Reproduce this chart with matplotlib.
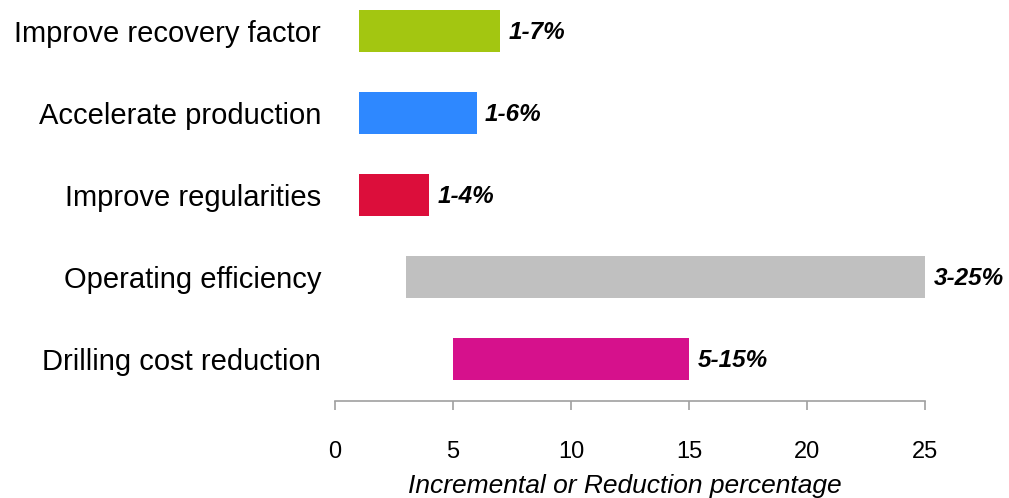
import matplotlib.pyplot as plt

# data
categories = ['Improve recovery factor', 'Accelerate production', 'Improve regularities',
              'Operating efficiency', 'Drilling cost reduction']
low = [1, 1, 1, 3, 5]
high = [7, 6, 4, 25, 15]
colors = ['#A3C611', '#2E88FF', '#DC0E3B', '#C0C0C0', '#D6118C']
xticks = [0, 5, 10, 15, 20, 25]

plt.rcParams['font.family'] = ['Liberation Sans', 'DejaVu Sans']

fig = plt.figure(figsize=(10.09, 4.98), dpi=100)
ax = fig.add_axes([335 / 1009, 1 - 401 / 498, 590 / 1009, 401 / 498])

y = list(range(len(categories)))
widths = [h - l for l, h in zip(low, high)]
ax.barh(y, widths, left=low, height=0.51, color=colors)

for yi, l, h in zip(y, low, high):
    ax.annotate(f'{l}-{h}%', xy=(h, yi), xytext=(6, -1), textcoords='offset points',
                ha='left', va='center', fontsize=17.5, fontweight='bold', fontstyle='italic')

ax.set_xlim(0, 25)
ax.set_ylim(4.512, -0.378)
ax.set_xticks(xticks)
ax.set_yticks(y)
ax.set_yticklabels(categories, fontsize=21)
ax.tick_params(axis='y', length=0, pad=10)
ax.tick_params(axis='x', direction='out', length=6.5, width=1.2, color='#A0A0A0',
               labelsize=17, pad=22)

for s in ['top', 'right', 'left']:
    ax.spines[s].set_visible(False)
ax.spines['bottom'].set_color('#A0A0A0')
ax.spines['bottom'].set_linewidth(1.2)

ax.set_xlabel('Incremental or Reduction percentage', fontsize=19, fontstyle='italic')
ax.xaxis.set_label_coords(0.491, -0.183)

fig.savefig('out.png', dpi=100)
